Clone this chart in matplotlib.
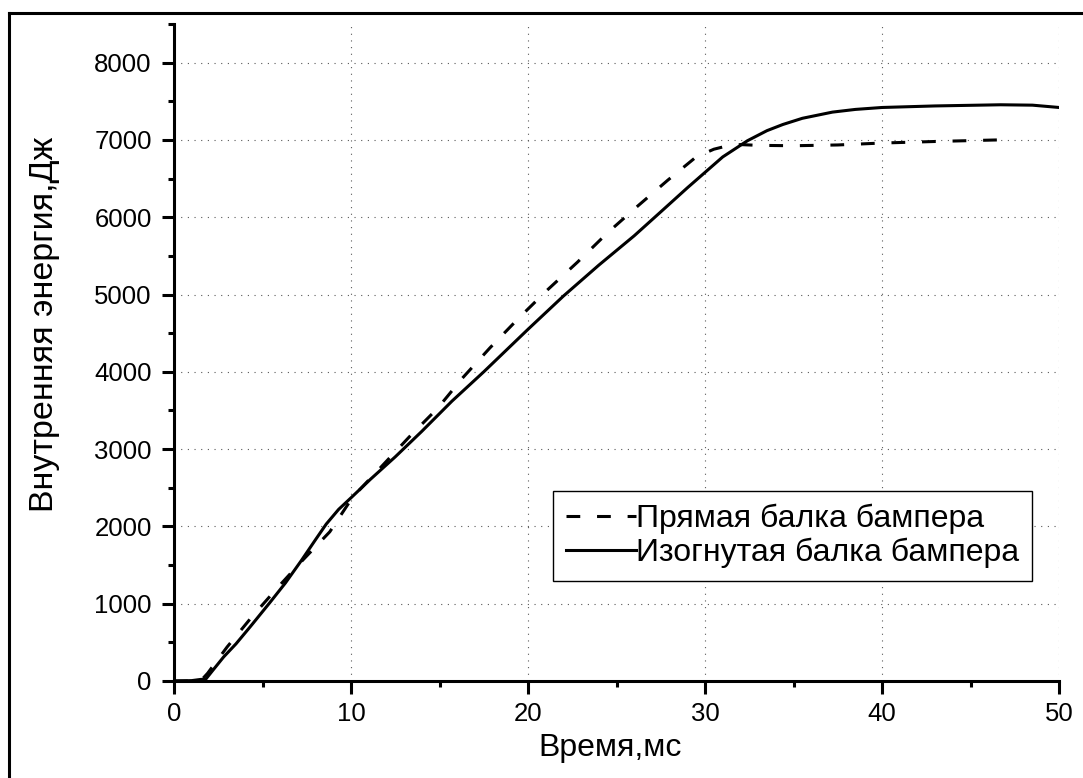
import matplotlib
matplotlib.use("Agg")
import matplotlib.pyplot as plt
from matplotlib.lines import Line2D
from matplotlib.ticker import MultipleLocator

plt.rcParams['font.family'] = ['Liberation Sans', 'DejaVu Sans']

# Straight bumper beam (dashed)
t_straight = [0, 1.5, 1.9, 3.0, 4.4, 5.9, 7.3, 8.8, 10.1, 11.5, 13.3, 14.9, 16.3,
              17.85, 19.5, 21.1, 22.8, 24.5, 26.2, 27.9, 29.5, 30.5, 31.2, 32.0,
              33.0, 35.0, 37.5, 40.0, 43.0, 46.5]
e_straight = [0, 0, 100, 440, 830, 1220, 1570, 1930, 2380, 2720, 3160, 3530, 3920,
              4310, 4700, 5060, 5420, 5800, 6145, 6480, 6780, 6880, 6920, 6940,
              6930, 6925, 6935, 6960, 6980, 7000]

# Curved bumper beam (solid)
t_curved = [0, 1.0, 1.5, 1.8, 2.2, 2.8, 3.5, 4.3, 5.4, 6.3, 7.2, 8.0, 8.6, 9.3,
            10.0, 11.1, 12.5, 14.0, 15.7, 17.5, 19.0, 20.0, 22.0, 24.0, 26.0,
            27.6, 29.0, 30.0, 31.0, 32.4, 33.5, 34.4, 35.5, 37.2, 38.5, 40.0,
            43.0, 46.7, 48.5, 50.0]
e_curved = [0, 5, 20, 25, 140, 310, 480, 700, 1010, 1270, 1560, 1830, 2030, 2220,
            2370, 2610, 2900, 3230, 3620, 4000, 4330, 4550, 4980, 5380, 5760,
            6090, 6380, 6580, 6780, 6990, 7120, 7200, 7280, 7360, 7395, 7420,
            7440, 7455, 7450, 7420]

W, H = 1083, 778
fig = plt.figure(figsize=(W / 100, H / 100), dpi=100)
ax = fig.add_axes([174 / W, 1 - 681 / H, (1059 - 174) / W, (681 - 24) / H])

lw = 2.2
ax.plot(t_straight, e_straight, color='black', lw=lw, dashes=(4.5, 5.5),
        label='Прямая балка бампера')
ax.plot(t_curved, e_curved, color='black', lw=lw, label='Изогнутая балка бампера')

ax.set_xlim(0, 50)
ax.set_ylim(0, 8500)
ax.xaxis.set_major_locator(MultipleLocator(10))
ax.xaxis.set_minor_locator(MultipleLocator(5))
ax.yaxis.set_major_locator(MultipleLocator(1000))
ax.yaxis.set_minor_locator(MultipleLocator(500))

for side in ['top', 'right']:
    ax.spines[side].set_visible(False)
for side in ['left', 'bottom']:
    ax.spines[side].set_linewidth(lw)

ax.tick_params(which='major', direction='out', length=9, width=lw, labelsize=18.5, pad=6)
ax.tick_params(which='minor', direction='out', length=4.5, width=lw)
ax.tick_params(axis='y', pad=7)

ax.grid(True, which='major', color='0.35', linestyle=(0, (1, 5)), linewidth=0.8)

ax.set_xlabel('Время,мс', fontsize=23, va='center')
ax.xaxis.set_label_coords((610 - 174) / 885, (681 - 748) / 657)
ax.set_ylabel('Внутренняя энергия,Дж', fontsize=24.5, va='center')
ax.yaxis.set_label_coords((45 - 174) / 885, (681 - 324) / 657)

leg = ax.legend(loc='upper left', bbox_to_anchor=((553 - 174) / 885, (681 - 491) / 657),
                borderaxespad=0, fontsize=23, handlelength=2.2, handletextpad=0.0,
                borderpad=0.4, labelspacing=0.12, fancybox=False, framealpha=1,
                edgecolor='black')
leg.get_frame().set_linewidth(1.0)

# outer frame (only top and left edges visible in the picture)
fig.add_artist(Line2D([8.5 / W, 8.5 / W], [0, 1 - 12.5 / H], color='black', lw=2.2))
fig.add_artist(Line2D([8.5 / W, 1], [1 - 12.5 / H, 1 - 12.5 / H], color='black', lw=2.2))

fig.savefig('out.png', dpi=100)
